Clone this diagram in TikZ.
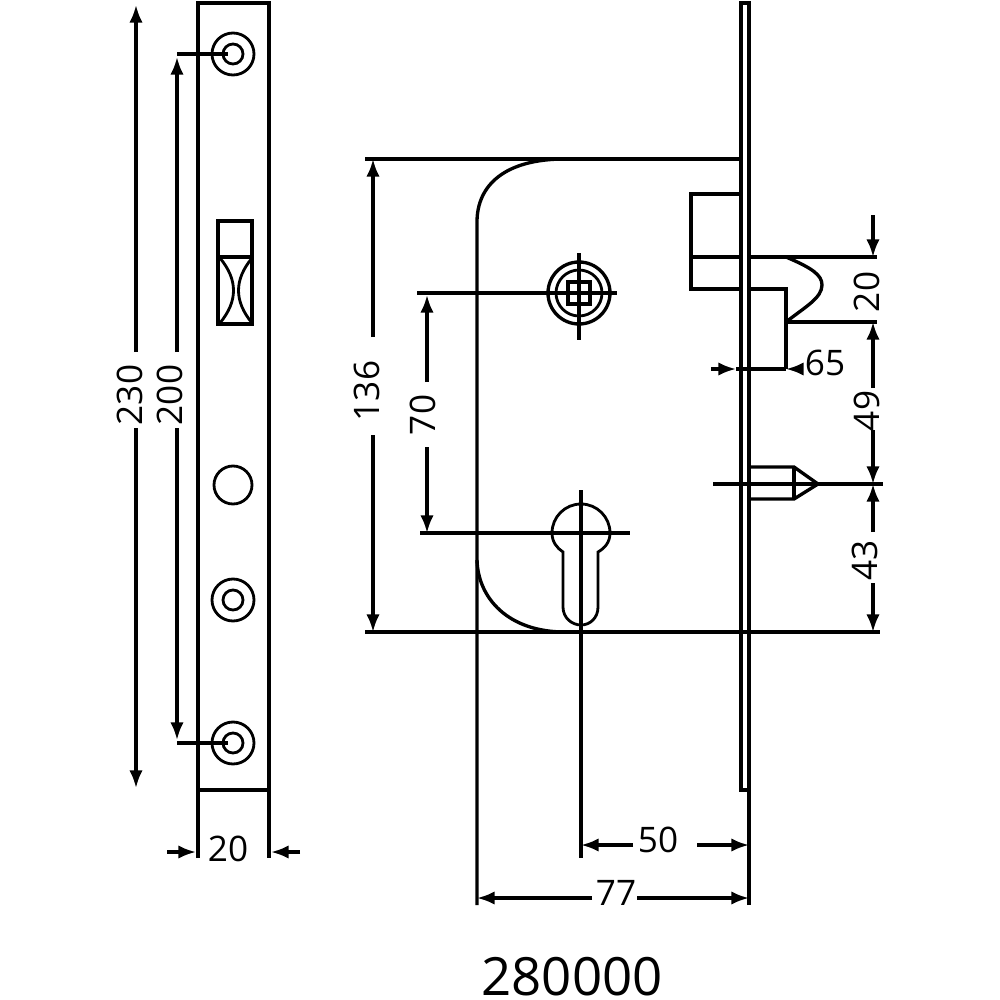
\documentclass[tikz,border=0pt]{standalone}
\usepackage{fontspec}
\setmainfont{Open Sans}
\usetikzlibrary{arrows.meta}
\begin{document}
\begin{tikzpicture}[x=0.01cm,y=-0.01cm,
    main line/.style={draw=black,line width=0.95pt},
    thin line/.style={draw=black,line width=0.8pt},
    dim arrow/.style={draw=black,line width=0.9pt,-{Latex[length=5pt,width=3.8pt]}},
    dim label/.style={font=\fontsize{10pt}{10pt}\selectfont,inner sep=0pt,text=black},
    dim vlabel/.style={dim label,rotate=90}]
    \useasboundingbox (0,0) rectangle (1000,1000);

    % faceplate, front view
    \draw[main line] (198,858) -- (198,3) -- (269,3) -- (269,858);
    \draw[main line] (198,790) -- (269,790);
    \foreach \cy in {54,600,743} {
        \draw[thin line] (233,\cy) circle (21);
        \draw[thin line] (233,\cy) circle (10);
    }
    \draw[thin line] (233,485) circle (19);
    \draw[main line] (218,221) rectangle (252,324);
    \draw[main line] (218,257) -- (252,257);
    \draw[thin line] (220,258) .. controls (238,280) and (238,301) .. (220,323);
    \draw[thin line] (252,258) .. controls (234,280) and (234,301) .. (252,323);

    % dimensions of the faceplate
    \coordinate (screw top) at (228,54);
    \coordinate (screw bottom) at (228,743);
    \coordinate (leader top) at (177,54);
    \coordinate (leader bottom) at (177,743);
    \draw[main line] (leader top) -- (screw top);
    \draw[main line] (leader bottom) -- (screw bottom);
    \node[dim vlabel] (h230) at (130,395) {230};
    \node[dim vlabel] (h200) at (170,395) {200};
    \coordinate (h230 top) at (136,5);
    \coordinate (h230 bottom) at (136,788);
    \coordinate (h200 top) at (177,57);
    \coordinate (h200 bottom) at (177,740);
    \draw[dim arrow] (136,352) -- (h230 top);
    \draw[dim arrow] (136,428) -- (h230 bottom);
    \draw[dim arrow] (177,352) -- (h200 top);
    \draw[dim arrow] (177,428) -- (h200 bottom);
    \coordinate (w20 left) at (196,852);
    \coordinate (w20 right) at (271,852);
    \draw[dim arrow] (167,852) -- (w20 left);
    \draw[dim arrow] (300,852) -- (w20 right);
    \node[dim label] (w20) at (228,849) {20};

    % lock case
    \draw[main line] (749,905) -- (749,3) -- (741,3) -- (741,790) -- (749,790);
    \draw[main line] (365,159) -- (741,159);
    \draw[main line] (365,632) -- (880,632);
    \draw[main line] (477,905) -- (477,222) .. controls (477,185) and (505,159) .. (565,159);
    \draw[main line] (477,560) .. controls (478,598) and (508,632) .. (565,632);

    % spindle
    \coordinate (spindle) at (579,293);
    \draw[main line] (spindle) circle (31);
    \draw[thin line] (spindle) circle (23);
    \draw[main line] (568,282) rectangle (590,304);
    \draw[main line] (417,293) -- (617,293);
    \draw[main line] (579,253) -- (579,340);

    % cylinder hole
    \draw[thin line] (563,552) .. controls (557,548) and (552,542) .. (552,533)
        arc[start angle=180,end angle=360,radius=29]
        .. controls (610,542) and (605,548) .. (598,552)
        -- (598,607) .. controls (598,618) and (590,625) .. (581,625)
        .. controls (572,625) and (563,618) .. (563,607) -- cycle;
    \draw[main line] (420,533) -- (630,533);
    \draw[main line] (581,490) -- (581,858);

    % latch and bolt
    \draw[main line] (741,194) -- (691,194) -- (691,289) -- (741,289);
    \draw[main line] (691,257) -- (741,257);
    \draw[main line] (749,257) -- (877,257);
    \draw[main line] (749,289) -- (786,289) -- (786,369);
    \draw[main line] (786,322) -- (877,322);
    \draw[main line] (786,257) .. controls (812,268) and (822,275) .. (822,285)
        .. controls (822,298) and (805,307) .. (786,322);
    \draw[main line] (749,467) -- (794,467) -- (818,484) -- (794,499) -- (749,499);
    \draw[main line] (794,467) -- (794,499);
    \draw[main line] (713,484) -- (883,484);

    % dimensions of the case
    \node[dim vlabel] (h136) at (367,391) {136};
    \node[dim vlabel] (h70) at (423,415) {70};
    \draw[dim arrow] (373,337) -- (373,159);
    \draw[dim arrow] (373,435) -- (373,632);
    \draw[dim arrow] (427,382) -- (427,295);
    \draw[dim arrow] (427,447) -- (427,533);
    \node[dim label] (w65) at (825,363) {65};
    \draw[dim arrow] (711,369) -- (736,369);
    \draw[main line] (736,369) -- (786,369);
    \draw[dim arrow] (802,369) -- (786,369);
    \node[dim vlabel] (h20) at (867,292) {20};
    \node[dim vlabel] (h49) at (867,411) {49};
    \node[dim vlabel] (h43) at (865,560) {43};
    \draw[dim arrow] (873,215) -- (873,257);
    \draw[dim arrow] (873,388) -- (873,322);
    \draw[dim arrow] (873,430) -- (873,484);
    \draw[dim arrow] (873,532) -- (873,484);
    \draw[dim arrow] (873,583) -- (873,632);
    \node[dim label] (w50) at (658,840) {50};
    \node[dim label] (w77) at (616,893) {77};
    \draw[dim arrow] (633,845) -- (581,845);
    \draw[dim arrow] (697,845) -- (749,845);
    \draw[dim arrow] (592,898) -- (477,898);
    \draw[dim arrow] (637,898) -- (749,898);

    \node[inner sep=0pt,font=\fontsize{15pt}{15pt}\selectfont,text=black] (title) at (572,977) {280000};
\end{tikzpicture}
\end{document}
